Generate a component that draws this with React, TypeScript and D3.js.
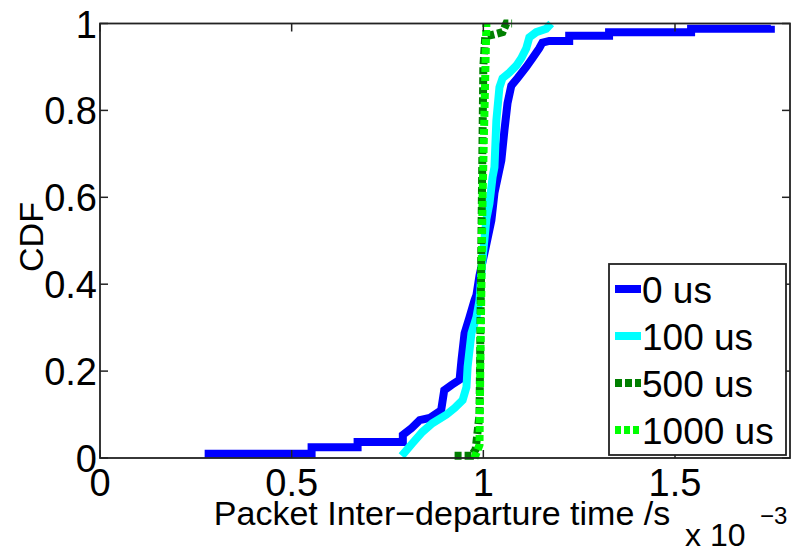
import React, { useEffect, useRef } from "react";
import * as d3 from "d3";

// inter-departure time (x 10^-3 s) vs CDF
const series0us: [number, number][] = [
  [0.273, 0.01], [0.552, 0.01], [0.552, 0.025], [0.672, 0.025], [0.672, 0.037],
  [0.79, 0.037], [0.79, 0.053], [0.813, 0.069], [0.834, 0.087], [0.86, 0.092],
  [0.89, 0.11], [0.898, 0.156], [0.917, 0.168], [0.938, 0.18], [0.943, 0.225],
  [0.951, 0.287], [0.964, 0.324], [0.977, 0.363], [0.982, 0.375], [0.99, 0.42],
  [1.005, 0.48], [1.021, 0.547], [1.029, 0.61], [1.047, 0.685], [1.055, 0.754],
  [1.063, 0.816], [1.073, 0.857], [1.089, 0.874], [1.112, 0.9], [1.128, 0.92],
  [1.146, 0.943], [1.154, 0.956], [1.172, 0.96], [1.224, 0.96], [1.224, 0.972],
  [1.328, 0.972], [1.328, 0.98], [1.542, 0.98], [1.542, 0.988], [1.75, 0.988],
  [1.75, 0.995],
];
const series100us: [number, number][] = [
  [0.787, 0.005], [0.815, 0.034], [0.841, 0.06], [0.867, 0.08], [0.904, 0.1],
  [0.925, 0.115], [0.946, 0.133], [0.956, 0.163], [0.959, 0.21], [0.969, 0.287],
  [0.982, 0.324], [0.99, 0.363], [0.997, 0.45], [1.008, 0.55], [1.016, 0.586],
  [1.024, 0.646], [1.029, 0.669], [1.034, 0.777], [1.042, 0.853], [1.05, 0.874],
  [1.068, 0.887], [1.086, 0.903], [1.099, 0.92], [1.112, 0.943], [1.12, 0.968],
  [1.138, 0.98], [1.164, 0.988], [1.177, 1.0],
];
const series500us: [number, number][] = [
  [0.925, 0.005], [0.969, 0.005], [0.98, 0.02], [0.99, 0.1], [0.995, 0.5],
  [1.0, 0.9], [1.005, 0.97], [1.05, 0.98], [1.06, 1.0], [1.075, 1.0],
];
const series1000us: [number, number][] = [
  [0.977, 0.0], [0.99, 0.03], [0.992, 0.2], [0.995, 0.4], [0.998, 0.6],
  [1.003, 0.8], [1.008, 1.0],
];

const legendLabels = ["0 us", "100 us", "500 us", "1000 us"];
const xTicks = [0, 0.5, 1, 1.5];
const yTicks = [0, 0.2, 0.4, 0.6, 0.8, 1];

const W = 800;
const H = 551;
const FONT = "'Liberation Sans', Arial, Helvetica, sans-serif";

export default function App() {
  const ref = useRef<SVGSVGElement>(null);

  useEffect(() => {
    const svg = d3.select(ref.current);
    svg.selectAll("*").remove();

    const left = 100, right = 790, top = 23.5, bottom = 458;
    const x = d3.scaleLinear().domain([0, 1.8]).range([left, right]);
    const y = d3.scaleLinear().domain([0, 1]).range([bottom, top]);

    svg.append("rect").attr("width", W).attr("height", H).attr("fill", "#fff");

    const styles = [
      { data: series0us, color: "#0000ff", dash: null },
      { data: series100us, color: "#00ffff", dash: null },
      { data: series500us, color: "#007f00", dash: "7,3" },
      { data: series1000us, color: "#00ff00", dash: "6,3" },
    ];

    const line = d3.line<[number, number]>()
      .x((d) => x(d[0]))
      .y((d) => y(d[1]));

    styles.forEach((s) => {
      svg.append("path")
        .attr("d", line(s.data))
        .attr("fill", "none")
        .attr("stroke", s.color)
        .attr("stroke-width", 8)
        .attr("stroke-linejoin", "miter")
        .attr("stroke-dasharray", s.dash);
    });

    // box + inward ticks
    svg.append("rect")
      .attr("x", left).attr("y", top)
      .attr("width", right - left).attr("height", bottom - top)
      .attr("fill", "none").attr("stroke", "#222").attr("stroke-width", 1.8);

    const tl = 8;
    xTicks.forEach((t) => {
      svg.append("line").attr("x1", x(t)).attr("x2", x(t)).attr("y1", bottom).attr("y2", bottom - tl)
        .attr("stroke", "#222").attr("stroke-width", 1.5);
      svg.append("line").attr("x1", x(t)).attr("x2", x(t)).attr("y1", top).attr("y2", top + tl)
        .attr("stroke", "#222").attr("stroke-width", 1.5);
      svg.append("text")
        .attr("x", x(t)).attr("y", 496)
        .attr("text-anchor", "middle")
        .attr("font-family", FONT).attr("font-size", 38)
        .text(String(t));
    });
    yTicks.forEach((t) => {
      svg.append("line").attr("x1", left).attr("x2", left + tl).attr("y1", y(t)).attr("y2", y(t))
        .attr("stroke", "#222").attr("stroke-width", 1.5);
      svg.append("line").attr("x1", right).attr("x2", right - tl).attr("y1", y(t)).attr("y2", y(t))
        .attr("stroke", "#222").attr("stroke-width", 1.5);
      svg.append("text")
        .attr("x", 97).attr("y", y(t) + 14)
        .attr("text-anchor", "end")
        .attr("font-family", FONT).attr("font-size", 38)
        .text(String(t));
    });

    // axis labels
    svg.append("text")
      .attr("x", 442).attr("y", 525)
      .attr("text-anchor", "middle")
      .attr("font-family", FONT).attr("font-size", 34)
      .text("Packet Inter\u2212departure time /s");
    svg.append("text")
      .attr("x", 685).attr("y", 546)
      .attr("font-family", FONT).attr("font-size", 32)
      .text("x 10");
    svg.append("text")
      .attr("x", 760).attr("y", 524)
      .attr("font-family", FONT).attr("font-size", 24)
      .text("\u22123");
    svg.append("text")
      .attr("transform", "translate(43,237) rotate(-90)")
      .attr("text-anchor", "middle")
      .attr("font-family", FONT).attr("font-size", 34)
      .text("CDF");

    // legend
    const lg = svg.append("g");
    lg.append("rect")
      .attr("x", 609).attr("y", 264).attr("width", 177).attr("height", 191)
      .attr("fill", "#fff").attr("stroke", "#222").attr("stroke-width", 1.8);
    const ly = d3.scalePoint<string>().domain(legendLabels).range([289, 430]);
    legendLabels.forEach((lab, i) => {
      const s = styles[i];
      lg.append("line")
        .attr("x1", 615).attr("x2", 641).attr("y1", ly(lab)!).attr("y2", ly(lab)!)
        .attr("stroke", s.color).attr("stroke-width", 8)
        .attr("stroke-dasharray", s.dash);
      lg.append("text")
        .attr("x", 642).attr("y", ly(lab)! + 14)
        .attr("font-family", FONT).attr("font-size", 37)
        .text(lab);
    });
  }, []);

  return (
    <svg
      ref={ref}
      width={W}
      height={H}
      style={{ position: "absolute", left: 0, top: 0 }}
    />
  );
}
